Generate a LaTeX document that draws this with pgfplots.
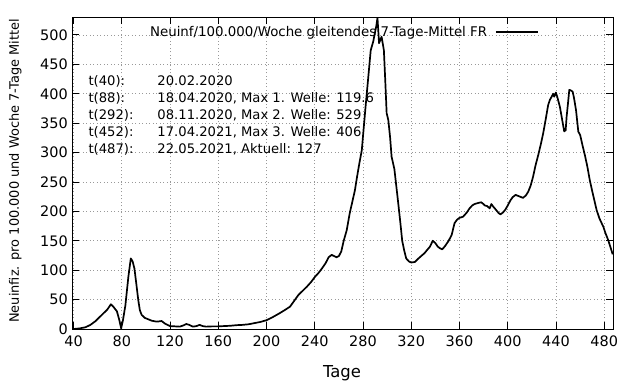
\documentclass[border=0pt]{standalone}
\usepackage{fontspec}
\setmainfont{DejaVu Sans}
\usepackage{pgfplots}
\pgfplotsset{compat=1.18}
\begin{document}
\begin{tikzpicture}
\useasboundingbox (-72.3bp,-55bp) rectangle (567.7bp,329bp);
\begin{axis}[
  at={(0,0)}, anchor=south west,
  scale only axis, width=541bp, height=311.7bp,
  xmin=39, xmax=487.5, ymin=0, ymax=530,
  xtick={40,80,...,480}, ytick={0,50,...,500},
  xtick pos=both, ytick pos=both, tick align=inside,
  major tick length=7bp,
  axis line style={line width=0.9bp},
  every tick/.style={black, line width=0.9bp},
  grid=major,
  major grid style={gray!80, line width=0.6bp, dash pattern=on 1bp off 2.5bp},
  /pgf/number format/assume math mode=true,
  /pgf/number format/.cd, 1000 sep={}, /pgfplots/.cd,
  tick label style={font=\fontsize{14.5}{16}\selectfont},
  xticklabel style={yshift=-3bp},
  yticklabel style={xshift=-1bp},
  xlabel={Tage},
  xlabel style={at={(axis description cs:0.4985,-0.142)}, anchor=center, font=\fontsize{16.5}{18}\selectfont},
  ylabel={Neuinfiz. pro 100.000 und Woche 7-Tage Mittel},
  ylabel style={at={(axis description cs:-0.1054,0.507)}, anchor=center, rotate=0, font=\fontsize{13}{15}\selectfont},
  legend plot pos=right,
  legend image code/.code={\draw[#1] (0bp,0bp) -- (42bp,0bp);},
  legend style={draw=none, fill=none, at={(rel axis cs:0.8627,0.953)}, anchor=east, inner sep=0pt, column sep=6bp, font=\fontsize{13.4}{15}\selectfont},
]
\addplot[black, line width=1.7bp, line join=round] coordinates {
(40,0) (45,1) (50,3) (54,7) (58,13) (62,21) (66,29) (68,33) (71,42) (73,38) (76,30) (78,15) (79.5,1)
(81,15) (83,40) (85.5,89) (87.5,120) (89,115) (90.5,103) (92,78) (93.7,49) (95,32) (96.5,24) (99,19)
(102,16.5) (105,14) (109,12.5) (111,13) (113,13.6) (116,9) (120,5) (124,4.5) (128,4) (131,6) (133.5,8.5)
(136,7) (139,4) (142,5) (144.5,7) (147,5) (150,4) (155,4.5) (160,4.5) (165,5) (170,5.5) (175,6.5) (180,7)
(185,8) (190,10) (195,12) (200,15) (205,20) (211,27) (215,32) (219.5,38) (223,48) (226.5,58) (230,65)
(233.5,72) (237,80) (240.3,89) (243,95) (246,103) (249,112) (251.5,122) (254,126) (256,124) (258,122)
(260,124) (262,132) (264,150) (266.5,168) (269,197) (271,215) (273.3,236) (275,258) (277,282) (279,304)
(280.5,340) (282,375) (284,420) (286.4,474) (288.5,489) (290,505) (291,515) (292,529) (293.3,486)
(295.4,497) (297.3,474) (298.5,420) (299.6,367) (301,355) (302.5,325) (303.7,293) (306,272) (307.5,245)
(309.2,214) (311,180) (312.5,150) (314,135) (315.8,120) (318,115) (320,113) (323,114) (326,120) (328.2,124)
(331,129) (333,134) (335.5,140) (337.8,150) (340,146) (342,140) (344,137) (345.7,135.5) (348,141) (351,150)
(353.5,160) (355.9,180) (358,186) (360,189) (363,191) (366,198) (368.3,205) (370.5,210) (372.5,212.5)
(375,214) (378,215.5) (379.5,213) (381,210) (383,209) (385,205) (386.4,212.5) (388,208) (390.5,202)
(392.5,197) (394,195) (396,198) (398,203) (400,210) (402,218) (404,224) (406.5,228) (409,226) (412.6,223)
(415,227) (417,233.5) (419,244) (421,259) (423,278) (425.3,296) (427.5,315) (429.4,333) (431.5,357)
(433.5,381) (435,390) (436.4,395) (437.7,400) (438.5,395) (439.9,402) (441,395) (443.2,378) (445,357)
(446.8,336) (448,338) (448.8,361) (450,385) (451,406.5) (452,406) (453.8,403.6) (455,392) (456.6,372)
(458.5,335.5) (460,330) (462,312) (464,295) (466,276) (468,253) (470.4,231) (473.7,202) (476,188)
(479.2,174) (481,163) (483.3,151) (485,140) (487,127)
};
\addlegendentry{Neuinf/100.000/Woche gleitendes 7-Tage-Mittel FR}
\begin{scope}[every node/.style={inner sep=0pt, anchor=base west, font=\fontsize{13.2}{15}\selectfont}]
\node at (rel axis cs:0.0296,0.7806) {t(40):};
\node at (rel axis cs:0.1571,0.7806) {20.02.2020};
\node at (rel axis cs:0.0296,0.7263) {t(88):};
\node at (rel axis cs:0.1571,0.7263) {18.04.2020, Max 1. Welle: 119.6};
\node at (rel axis cs:0.0296,0.6721) {t(292):};
\node at (rel axis cs:0.1571,0.6721) {08.11.2020, Max 2. Welle: 529};
\node at (rel axis cs:0.0296,0.6179) {t(452):};
\node at (rel axis cs:0.1571,0.6179) {17.04.2021, Max 3. Welle: 406};
\node at (rel axis cs:0.0296,0.5637) {t(487):};
\node at (rel axis cs:0.1571,0.5637) {22.05.2021, Aktuell: 127};
\end{scope}
\end{axis}
\end{tikzpicture}
\end{document}
